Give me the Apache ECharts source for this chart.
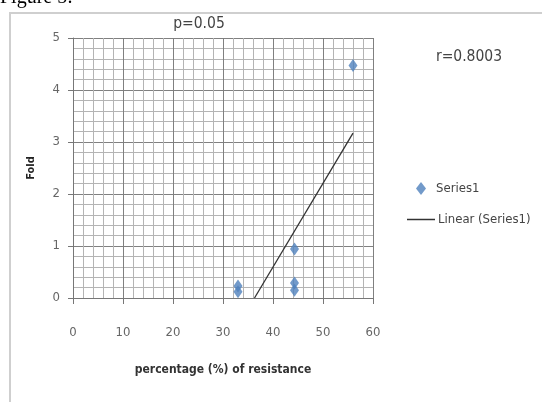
<!DOCTYPE html>
<html><head><meta charset="utf-8">
<script src="https://cdn.jsdelivr.net/npm/echarts@6/dist/echarts.min.js"></script>
<style>html,body{margin:0;padding:0;background:#fff}#c{width:542px;height:402px}</style>
</head><body><div id="c"></div>
<script>
// Data
const xValues = [33, 33, 44.3, 44.3, 44.3, 56];
const yValues = [0.23, 0.12, 0.94, 0.29, 0.15, 4.47];
const trendX = [36.3, 56];
const trendY = [0, 3.17];
const xTicks = [0, 10, 20, 30, 40, 50, 60];
const yTicks = [0, 1, 2, 3, 4, 5];

const FONT = '"DejaVu Sans Condensed", "Liberation Sans Narrow", "Liberation Sans", sans-serif';
const chart = echarts.init(document.getElementById('c'));
chart.setOption({
  animation: false,
  backgroundColor: '#fff',
  graphic: [
    { type: 'rect', shape: { x: 10, y: 13, width: 540, height: 400 },
      style: { fill: 'none', stroke: '#cfcfcf', lineWidth: 2 }, z: 0 },
    { type: 'text', left: 0, top: -12,
      style: { text: 'Figure 5:', font: '20px "Liberation Serif", "Times New Roman", serif', fill: '#000' } },
    { type: 'text', x: 199, y: 24,
      style: { text: 'p=0.05', font: '15.5px ' + FONT, fill: '#444', align: 'center', verticalAlign: 'middle' } },
    { type: 'text', x: 469, y: 57,
      style: { text: 'r=0.8003', font: '15.5px ' + FONT, fill: '#444', align: 'center', verticalAlign: 'middle' } }
  ],
  grid: { left: 73, top: 38, width: 300, height: 260, containLabel: false },
  legend: [
    {
      orient: 'vertical', left: 411, top: 177, itemWidth: 10, itemHeight: 13,
      textStyle: { fontFamily: FONT, fontSize: 13, color: '#444', padding: [0, 0, 0, 5] },
      data: [{ name: 'Series1', icon: 'diamond', itemStyle: { color: '#4f81bd' } }]
    },
    {
      orient: 'vertical', left: 402, top: 208, itemWidth: 28, itemHeight: 1.5,
      textStyle: { fontFamily: FONT, fontSize: 13, color: '#444', padding: [0, 0, 0, -2] },
      data: [{ name: 'Linear (Series1)', icon: 'rect', itemStyle: { color: '#333' } }]
    }
  ],
  xAxis: {
    type: 'value', min: 0, max: 60, interval: 10,
    name: 'percentage (%) of resistance', nameLocation: 'middle', nameGap: 66,
    nameTextStyle: { fontFamily: FONT, fontSize: 12, fontWeight: 'bold', color: '#333' },
    axisLine: { show: true, lineStyle: { color: '#777', width: 1 } },
    axisTick: { show: true, length: 6, lineStyle: { color: '#777' } },
    axisLabel: { margin: 28, fontFamily: FONT, fontSize: 13, color: '#666',
      customValues: xTicks },
    splitLine: { show: true, lineStyle: { color: '#808080', width: 1 } },
    minorTick: { show: false, splitNumber: 5 },
    minorSplitLine: { show: true, lineStyle: { color: '#b4b4b4', width: 1 } }
  },
  yAxis: {
    type: 'value', min: 0, max: 5, interval: 1,
    name: 'Fold', nameLocation: 'middle', nameGap: 36,
    nameTextStyle: { fontFamily: FONT, fontSize: 11, fontWeight: 'bold', color: '#222' },
    axisLine: { show: true, lineStyle: { color: '#777', width: 1 } },
    axisTick: { show: true, length: 5, lineStyle: { color: '#777' } },
    axisLabel: { margin: 13, fontFamily: FONT, fontSize: 13, color: '#666',
      customValues: yTicks },
    splitLine: { show: true, lineStyle: { color: '#808080', width: 1 } },
    minorTick: { show: false, splitNumber: 5 },
    minorSplitLine: { show: true, lineStyle: { color: '#b4b4b4', width: 1 } }
  },
  series: [
    { name: 'Series1', type: 'scatter', symbol: 'diamond', symbolSize: [9, 13],
      itemStyle: { color: '#4f81bd' },
      data: xValues.map((x, i) => [x, yValues[i]]), z: 3 },
    { name: 'Linear (Series1)', type: 'line', symbol: 'none',
      lineStyle: { color: '#333', width: 1.3 }, itemStyle: { color: '#333' },
      data: trendX.map((x, i) => [x, trendY[i]]), z: 2 }
  ]
});
</script></body></html>
